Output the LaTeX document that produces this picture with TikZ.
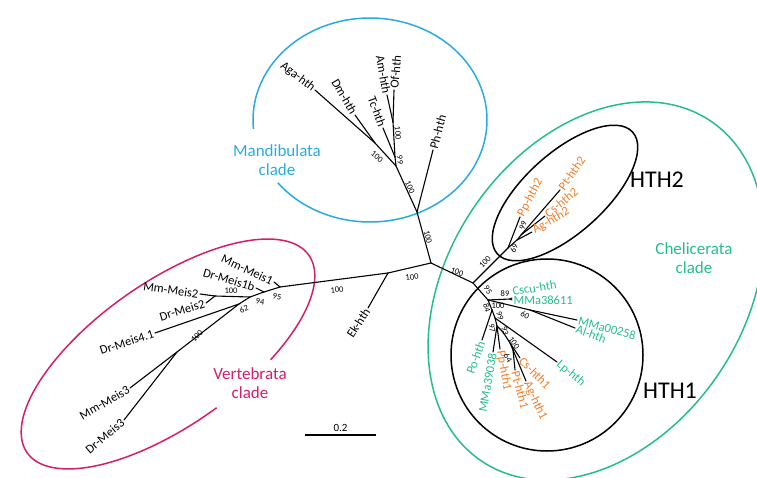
\documentclass[tikz,border=0pt]{standalone}
\usepackage{fontspec}
\setmainfont{Carlito}
\usetikzlibrary{positioning,calc}
\definecolor{mandblue}{RGB}{41,170,226}
\definecolor{vertpink}{RGB}{214,29,106}
\definecolor{chelgreen}{RGB}{36,190,140}
\definecolor{hthorange}{RGB}{240,125,40}
\tikzset{
    branch/.style = {line width=1.1pt,line cap=round},
    ring/.style = {line width=1.5pt},
    leaf/.style = {font=\fontsize{12.5}{13}\selectfont,inner sep=1.5pt},
    boot/.style = {font=\fontsize{8.5}{9}\selectfont,inner sep=0pt},
    cladename/.style = {font=\fontsize{17}{19}\selectfont,align=center,inner sep=0pt},
    hthname/.style = {font=\fontsize{24}{26}\selectfont,inner sep=0pt}
}

\begin{document}
\begin{tikzpicture}[x=1pt,y=-1pt]
        \useasboundingbox (0,0) rectangle (757,478);
        % Clade rings
        \draw[ring,mandblue] (370,120) ++(218:117pt and 102pt)
            arc[start angle=218,end angle=545,x radius=117pt,y radius=102pt];
        \begin{scope}[shift={(168,354)},rotate=35]
            \draw[ring,vertpink] (-62:172pt and 72pt)
                arc[start angle=-62,end angle=273,x radius=172pt,y radius=72pt];
        \end{scope}
        \draw[ring,chelgreen,rotate around={56:(596,291)}] (596,291) ellipse[x radius=205pt,y radius=148pt];
        \draw[ring,rotate around={42:(565,193)}] (565,193) ellipse[x radius=91pt,y radius=40pt];
        \draw[ring] (547,355) circle[radius=96pt];
        % Inner nodes
        \coordinate (c0) at (431,263);
        \coordinate (mph) at (417,212);
        \coordinate (m1) at (396,166);
        \coordinate (m2) at (375,143);
        \coordinate (m4) at (395,157);
        \coordinate (m3) at (393,122);
        \coordinate (e1) at (388,273);
        \coordinate (v1) at (280,287);
        \coordinate (v2) at (264,292);
        \coordinate (v3) at (250,297);
        \coordinate (v4) at (239,304);
        \coordinate (v5) at (215,296);
        \coordinate (v6) at (177,352);
        \coordinate (c1) at (473,283);
        \coordinate (h2) at (508,248);
        \coordinate (h2a) at (517,240);
        \coordinate (h2b) at (521,235);
        \coordinate (k1) at (488,300);
        \coordinate (k4) at (510,299);
        \coordinate (k3) at (530,310);
        \coordinate (l1) at (492,310);
        \coordinate (l2) at (495,318);
        \coordinate (l3) at (497,326);
        \coordinate (l4) at (503,332);
        \coordinate (l5) at (510,343);
        \coordinate (l6) at (513,350);
        % Tips
        \coordinate (tPh) at (433,150);
        \coordinate (tAga) at (315,90);
        \coordinate (tDm) at (355,115);
        \coordinate (tTc) at (383,128);
        \coordinate (tAm) at (387,95);
        \coordinate (tOf) at (394,90);
        \coordinate (tEk) at (368,308);
        \coordinate (tMm1) at (274,282);
        \coordinate (tDr1b) at (256,288);
        \coordinate (tMm2) at (200,294);
        \coordinate (tDr2) at (206,303);
        \coordinate (tDr41) at (155,333);
        \coordinate (tMm3) at (130,388);
        \coordinate (tDr3) at (124,420);
        \coordinate (tPp2) at (520,217);
        \coordinate (tAg2) at (532,232);
        \coordinate (tCs2) at (545,216);
        \coordinate (tPt2) at (560,190);
        \coordinate (tCscu) at (512,298);
        \coordinate (tMMa3) at (512,300);
        \coordinate (tMMa0) at (577,320);
        \coordinate (tAl) at (575,328);
        \coordinate (tPo) at (482,340);
        \coordinate (tLp) at (557,362);
        \coordinate (tMMa39) at (493,352);
        \coordinate (tPp1) at (500,349);
        \coordinate (tCs1) at (520,358);
        \coordinate (tPt1) at (515,370);
        \coordinate (tAg1) at (526,381);
        % Branches
        \foreach \src/\dest in {c0/mph,mph/tPh,mph/m1,m1/m2,m2/tAga,m2/tDm,m1/m4,m4/tTc,m4/m3,m3/tAm,m3/tOf,
                c0/e1,e1/tEk,e1/v1,v1/tMm1,v1/v2,v2/tDr1b,v2/v3,v3/v5,v5/tMm2,v5/tDr2,v3/v4,v4/tDr41,v4/v6,v6/tMm3,v6/tDr3,
                c0/c1,c1/h2,h2/tPp2,h2/h2a,h2a/tAg2,h2a/h2b,h2b/tCs2,h2b/tPt2,
                c1/k1,k1/k4,k4/tCscu,k4/tMMa3,k1/k3,k3/tMMa0,k3/tAl,k1/l1,l1/tPo,l1/l2,l2/tLp,l2/l3,l3/tMMa39,l3/tPp1,
                l3/l4,l4/l5,l5/tCs1,l5/l6,l6/tPt1,l6/tAg1}
            \draw[branch] (\src) -- (\dest);
        % Leaf labels
        \node[leaf,rotate=75,anchor=west] (Ph) at (tPh) {Ph-hth};
        \node[leaf,rotate=-37,anchor=east] (Aga) at (tAga) {Aga-hth};
        \node[leaf,rotate=-60,anchor=east] (Dm) at (tDm) {Dm-hth};
        \node[leaf,rotate=-70,anchor=east] (Tc) at (tTc) {Tc-hth};
        \node[leaf,rotate=-80,anchor=east] (Am) at (tAm) {Am-hth};
        \node[leaf,rotate=85,anchor=west] (Of) at (tOf) {Of-hth};
        \node[leaf,rotate=57,anchor=east] (Ek) at (tEk) {Ek-hth};
        \node[leaf,rotate=-25,anchor=east] (Mm1) at (tMm1) {Mm-Meis1};
        \node[leaf,rotate=-17,anchor=east] (Dr1b) at (tDr1b) {Dr-Meis1b};
        \node[leaf,rotate=-8,anchor=east] (Mm2) at (tMm2) {Mm-Meis2};
        \node[leaf,rotate=17,anchor=east] (Dr2) at (tDr2) {Dr-Meis2};
        \node[leaf,rotate=18,anchor=east] (Dr41) at (tDr41) {Dr-Meis4.1};
        \node[leaf,rotate=30,anchor=east] (Mm3) at (tMm3) {Mm-Meis3};
        \node[leaf,rotate=40,anchor=east] (Dr3) at (tDr3) {Dr-Meis3};
        \node[leaf,hthorange,rotate=62,anchor=west] (Pp2) at (tPp2) {Pp-hth2};
        \node[leaf,hthorange,rotate=30,anchor=west] (Ag2) at (tAg2) {Ag-hth2};
        \node[leaf,hthorange,rotate=40,anchor=west] (Cs2) at (tCs2) {Cs-hth2};
        \node[leaf,hthorange,rotate=55,anchor=west] (Pt2) at (tPt2) {Pt-hth2};
        \node[leaf,chelgreen,rotate=10,anchor=south west] (Cscu) at (tCscu) {Cscu-hth};
        \node[leaf,chelgreen,anchor=west] (MMa3) at (tMMa3) {MMa38611};
        \node[leaf,chelgreen,rotate=-15,anchor=west] (MMa0) at (tMMa0) {MMa00258};
        \node[leaf,chelgreen,rotate=-20,anchor=west] (Al) at (tAl) {Al-hth};
        \node[leaf,chelgreen,rotate=-40,anchor=west] (Lp) at (tLp) {Lp-hth};
        \node[leaf,chelgreen,rotate=70,anchor=east] (Po) at (tPo) {Po-hth};
        \node[leaf,chelgreen,rotate=80,anchor=east] (MMa39) at (tMMa39) {MMa39038};
        \node[leaf,hthorange,rotate=-80,anchor=west] (Pp1) at (tPp1) {Pp-hth1};
        \node[leaf,hthorange,rotate=-45,anchor=west] (Cs1) at (tCs1) {Cs-hth1};
        \node[leaf,hthorange,rotate=-75,anchor=west] (Pt1) at (tPt1) {Pt-hth1};
        \node[leaf,hthorange,rotate=-65,anchor=west] (Ag1) at (tAg1) {Ag-hth1};
        % Bootstrap values
        \node[boot,rotate=-78] (bs1) at (428,237) {100};
        \node[boot,rotate=-65] (bs2) at (410,187) {100};
        \node[boot,rotate=-40] (bs3) at (377,157) {100};
        \node[boot,rotate=-85] (bs4) at (400,160) {99};
        \node[boot,rotate=-85] (bs5) at (398,133) {100};
        \node[boot,rotate=8] (bs6) at (412,277) {100};
        \node[boot,rotate=5] (bs7) at (337,290) {100};
        \node[boot] (bs8) at (231,291) {100};
        \node[boot,rotate=-10] (bs9) at (277,297) {95};
        \node[boot,rotate=-10] (bs10) at (260,302) {94};
        \node[boot,rotate=20] (bs11) at (244,309) {62};
        \node[boot,rotate=45] (bs12) at (197,336) {100};
        \node[boot,rotate=-20] (bs13) at (457,272) {100};
        \node[boot,rotate=45] (bs14) at (485,262) {100};
        \node[boot,rotate=65] (bs15) at (514,248) {69};
        \node[boot,rotate=70] (bs16) at (523,226) {99};
        \node[boot,rotate=-60] (bs17) at (488,290) {95};
        \node[boot] (bs18) at (505,294) {89};
        \node[boot] (bs19) at (498,306) {100};
        \node[boot,rotate=-30] (bs20) at (525,315) {60};
        \node[boot,rotate=-75] (bs21) at (487,308) {84};
        \node[boot,rotate=-75] (bs22) at (500,316) {99};
        \node[boot,rotate=-80] (bs23) at (492,328) {97};
        \node[boot,rotate=-75] (bs24) at (505,331) {93};
        \node[boot,rotate=-55] (bs25) at (514,343) {100};
        \node[boot,rotate=-60] (bs26) at (508,358) {64};
        % Clade names
        \node[cladename,mandblue] (mand) at (277,160) {Mandibulata\\clade};
        \node[cladename,vertpink] (vert) at (250,383) {Vertebrata\\clade};
        \node[cladename,chelgreen] (chel) at (694,258) {Chelicerata\\clade};
        \node[hthname] (hth2) at (657,180) {HTH2};
        \node[hthname] (hth1) at (670,391) {HTH1};
        % Scale bar
        \coordinate (sbl) at (305,435);
        \coordinate (sbr) at (376,435);
        \draw[branch,line cap=butt] (sbl) -- (sbr);
        \node[leaf,font=\fontsize{11}{12}\selectfont,above=2pt of $(sbl)!0.5!(sbr)$] (sbtxt) {0.2};
\end{tikzpicture}
\end{document}
